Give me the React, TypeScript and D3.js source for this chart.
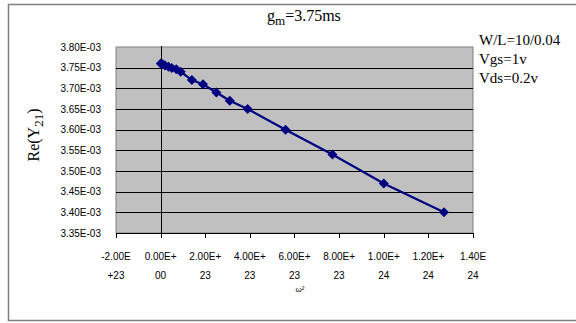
import React from "react";
import * as d3 from "d3";

// ω² (rad²/s²) and Re(Y21) (S)
const omegaSq: number[] = [
  0.01e23, 0.04e23, 0.1e23, 0.2e23, 0.35e23, 0.5e23, 0.7e23, 0.9e23,
  1.4e23, 1.9e23, 2.5e23, 3.1e23, 3.9e23, 5.6e23, 7.7e23, 10.0e23, 12.7e23,
];
const reY21: number[] = [
  3.760e-3, 3.759e-3, 3.758e-3, 3.755e-3, 3.752e-3, 3.749e-3, 3.746e-3, 3.740e-3,
  3.720e-3, 3.710e-3, 3.690e-3, 3.670e-3, 3.650e-3, 3.600e-3, 3.540e-3, 3.470e-3, 3.400e-3,
];

const xTicks: number[] = [-2e23, 0, 2e23, 4e23, 6e23, 8e23, 1e24, 1.2e24, 1.4e24];
const xTickLabels: [string, string][] = [
  ["-2.00E", "+23"],
  ["0.00E+", "00"],
  ["2.00E+", "23"],
  ["4.00E+", "23"],
  ["6.00E+", "23"],
  ["8.00E+", "23"],
  ["1.00E+", "24"],
  ["1.20E+", "24"],
  ["1.40E", "24"],
];
const yTicks: number[] = [3.35e-3, 3.4e-3, 3.45e-3, 3.5e-3, 3.55e-3, 3.6e-3, 3.65e-3, 3.7e-3, 3.75e-3, 3.8e-3];
const yTickLabels: string[] = [
  "3.35E-03", "3.40E-03", "3.45E-03", "3.50E-03", "3.55E-03",
  "3.60E-03", "3.65E-03", "3.70E-03", "3.75E-03", "3.80E-03",
];

const notes: string[] = ["W/L=10/0.04", "Vgs=1v", "Vds=0.2v"];

const W = 576;
const H = 323;
const plot = { left: 116, right: 473, top: 47, bottom: 233 };
const serif = "'Liberation Serif', 'Times New Roman', serif";
const sans = "'Liberation Sans', Arial, sans-serif";
const navy = "#000080";

export default function App() {
  const x = d3.scaleLinear().domain([-2e23, 1.4e24]).range([plot.left, plot.right]);
  const y = d3.scaleLinear().domain([3.35e-3, 3.8e-3]).range([plot.bottom, plot.top]);
  const pts = omegaSq.map((v, i) => [x(v), y(reY21[i])] as [number, number]);
  const line = d3.line<[number, number]>().x((d) => d[0]).y((d) => d[1]);
  const diamond = d3.symbol().type(d3.symbolDiamond2).size(64)();

  return (
    <div style={{ position: "absolute", left: 0, top: 0 }}>
      <svg width={W} height={H} style={{ display: "block", background: "#fff" }}>
        {/* chart frame */}
        <path d={`M${W},4.5 H8.5 V320.5 H${W}`} fill="none" stroke="#808080" strokeWidth={1.5} />

        {/* title */}
        <text x={267} y={21} fontFamily={serif} fontSize={16} fill="#000">
          g<tspan dy={4} fontSize={13}>m</tspan>
          <tspan dy={-4}>=3.75ms</tspan>
        </text>

        {/* plot area */}
        <rect
          x={plot.left}
          y={plot.top}
          width={plot.right - plot.left}
          height={plot.bottom - plot.top}
          fill="#C0C0C0"
          stroke="#808080"
          strokeWidth={1}
        />
        {yTicks.slice(1, -1).map((t) => (
          <line key={t} x1={plot.left} x2={plot.right} y1={Math.round(y(t)) + 0.5} y2={Math.round(y(t)) + 0.5} stroke="#000" strokeWidth={1} />
        ))}
        {/* y axis at x = 0 */}
        <line x1={Math.round(x(0)) + 0.5} x2={Math.round(x(0)) + 0.5} y1={plot.top - 1} y2={plot.bottom} stroke="#000" strokeWidth={1} />
        {/* x axis with ticks */}
        <line x1={plot.left} x2={plot.right} y1={plot.bottom + 0.5} y2={plot.bottom + 0.5} stroke="#000" strokeWidth={1} />
        {xTicks.map((t) => (
          <line key={t} x1={Math.round(x(t)) + 0.5} x2={Math.round(x(t)) + 0.5} y1={plot.bottom} y2={plot.bottom + 5} stroke="#000" strokeWidth={1} />
        ))}

        {/* series */}
        <path d={line(pts) ?? ""} fill="none" stroke={navy} strokeWidth={2.2} />
        {pts.map(([px, py], i) => (
          <path key={i} d={diamond ?? ""} transform={`translate(${px},${py})`} fill={navy} />
        ))}

        {/* y tick labels */}
        {yTicks.map((t, i) => (
          <text key={t} x={101} y={y(t) + 3.5} textAnchor="end" fontFamily={sans} fontSize={10} fill="#000">
            {yTickLabels[i]}
          </text>
        ))}
        {/* x tick labels */}
        {xTicks.map((t, i) => (
          <text key={t} textAnchor="middle" fontFamily={sans} fontSize={10} fill="#000">
            <tspan x={x(t)} y={260}>{xTickLabels[i][0]}</tspan>
            <tspan x={x(t)} y={279}>{xTickLabels[i][1]}</tspan>
          </text>
        ))}

        {/* axis titles */}
        <text x={300} y={292} textAnchor="middle" fontFamily={sans} fontSize={8} fill="#000">
          ω²
        </text>
        <text
          transform="translate(39,135) rotate(-90)"
          textAnchor="middle"
          fontFamily={serif}
          fontSize={16}
          fill="#000"
        >
          Re(Y<tspan dy={4} fontSize={13}>21</tspan>
          <tspan dy={-4}>)</tspan>
        </text>

        {/* operating point notes */}
        {notes.map((n, i) => (
          <text key={n} x={479} y={45 + i * 19} fontFamily={serif} fontSize={15} fill="#000">
            {n}
          </text>
        ))}
      </svg>
    </div>
  );
}
